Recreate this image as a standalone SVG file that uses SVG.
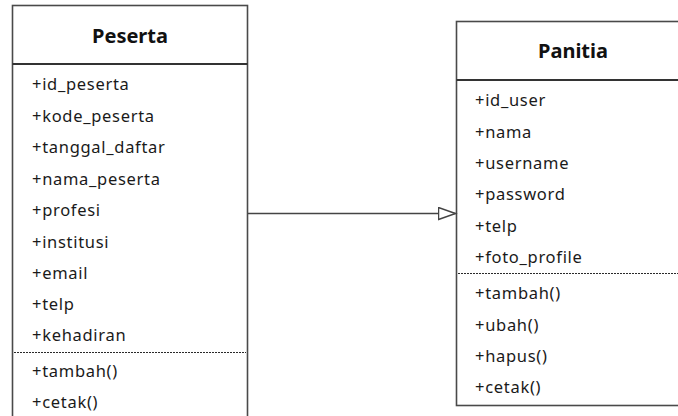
<svg xmlns="http://www.w3.org/2000/svg" width="678" height="416" viewBox="0 0 678 416">
  <defs>
    <style>
      .box { fill: #ffffff; stroke: #4a4a4a; stroke-width: 1.6; }
      .sep { stroke: #333333; stroke-width: 1.8; }
      .dash { stroke: #2a2a2a; stroke-width: 1.2; stroke-dasharray: 2 1; }
      .title { font-family: "Noto Sans", "Open Sans", sans-serif; font-weight: bold; font-size: 20px; fill: #111111; text-anchor: middle; }
      .item { font-family: "Noto Sans", "Open Sans", sans-serif; font-size: 16.5px; letter-spacing: 0.7px; fill: #1a1a1a; }
      .conn { stroke: #444444; stroke-width: 1.5; fill: none; }
    </style>
    <marker id="hollowTri" markerWidth="20" markerHeight="14" refX="18" refY="7" orient="auto" markerUnits="userSpaceOnUse">
      <path d="M1,1 L18,7 L1,13 Z" fill="#ffffff" stroke="#444444" stroke-width="1.5"/>
    </marker>
  </defs>

  <rect width="678" height="416" fill="#ffffff"/>

  <!-- Peserta class -->
  <g id="peserta">
    <rect class="box" x="12.5" y="5.5" width="235" height="430"/>
    <line class="sep" x1="12.5" y1="64" x2="247.5" y2="64"/>
    <text class="title" x="130" y="43">Peserta</text>
    <text class="item" x="32" y="90">+id_peserta</text>
    <text class="item" x="32" y="121.5">+kode_peserta</text>
    <text class="item" x="32" y="153">+tanggal_daftar</text>
    <text class="item" x="32" y="184.5">+nama_peserta</text>
    <text class="item" x="32" y="216">+profesi</text>
    <text class="item" x="32" y="247.5">+institusi</text>
    <text class="item" x="32" y="279">+email</text>
    <text class="item" x="32" y="310">+telp</text>
    <text class="item" x="32" y="341">+kehadiran</text>
    <line class="dash" x1="14" y1="352.5" x2="246" y2="352.5"/>
    <text class="item" x="32" y="376.5">+tambah()</text>
    <text class="item" x="32" y="408">+cetak()</text>
  </g>

  <!-- Panitia class -->
  <g id="panitia">
    <rect class="box" x="456.5" y="21.5" width="240" height="384"/>
    <line class="sep" x1="456.5" y1="80" x2="696" y2="80"/>
    <text class="title" x="573" y="58">Panitia</text>
    <text class="item" x="475" y="106">+id_user</text>
    <text class="item" x="475" y="137.5">+nama</text>
    <text class="item" x="475" y="169">+username</text>
    <text class="item" x="475" y="200">+password</text>
    <text class="item" x="475" y="231.5">+telp</text>
    <text class="item" x="475" y="263">+foto_profile</text>
    <line class="dash" x1="458" y1="273.5" x2="678" y2="273.5"/>
    <text class="item" x="475" y="299">+tambah()</text>
    <text class="item" x="475" y="330.5">+ubah()</text>
    <text class="item" x="475" y="361.5">+hapus()</text>
    <text class="item" x="475" y="393">+cetak()</text>
  </g>

  <!-- generalization: Peserta to Panitia -->
  <g id="connectors">
    <line class="conn" x1="248" y1="213.5" x2="455.5" y2="213.5" marker-end="url(#hollowTri)"/>
  </g>
</svg>
